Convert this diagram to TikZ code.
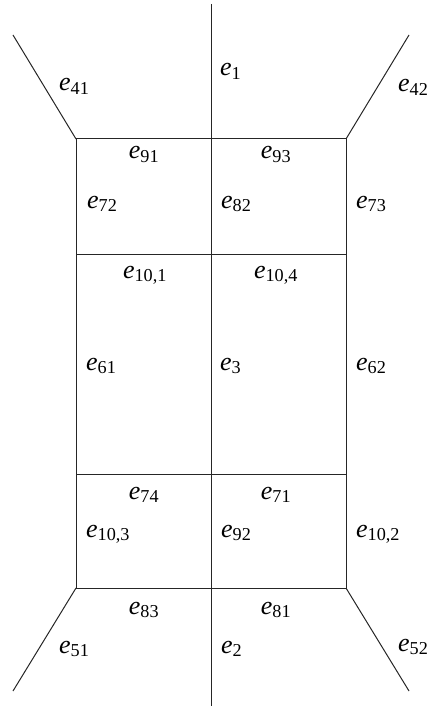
\documentclass[tikz,border=0pt]{standalone}
\usepackage{fontspec}
\setmainfont{Liberation Serif}
\newcommand{\elab}[1]{\textit{e}\textsubscript{#1}}
\tikzset{
    EdgeLine/.style={line width=1pt, draw=black!85},
    EdgeLabel/.style={font=\fontsize{26}{31}\selectfont, inner sep=0pt}
}

\begin{document}
\begin{tikzpicture}[x=1pt, y=-1pt]
\useasboundingbox (0, 0) rectangle (430, 711);

\coordinate (A) at (76, 139);
\coordinate (B) at (346, 139);
\coordinate (C) at (346, 588);
\coordinate (D) at (76, 588);
\coordinate (G) at (76, 254);
\coordinate (H) at (346, 254);
\coordinate (K) at (76, 474);
\coordinate (L) at (346, 474);
\coordinate (T) at (211, 4);
\coordinate (U) at (211, 706);
\coordinate (P) at (13, 35);
\coordinate (Q) at (409, 35);
\coordinate (R) at (13, 691);
\coordinate (S) at (409, 691);

\draw[EdgeLine] (A) -- (B) -- (C) -- (D) -- cycle;
\draw[EdgeLine] (T) -- (U);
\draw[EdgeLine] (G) -- (H);
\draw[EdgeLine] (K) -- (L);
\draw[EdgeLine] (P) -- (A);
\draw[EdgeLine] (Q) -- (B);
\draw[EdgeLine] (R) -- (D);
\draw[EdgeLine] (S) -- (C);

\node[EdgeLabel, anchor=base west] (e41) at (59, 91) {\elab{41}};
\node[EdgeLabel, anchor=base west] (e1) at (220, 75.5) {\elab{1}};
\node[EdgeLabel, anchor=base west] (e42) at (398, 92) {\elab{42}};

\node[EdgeLabel, anchor=base] (e91) at (144, 159) {\elab{91}};
\node[EdgeLabel, anchor=base] (e93) at (276, 159) {\elab{93}};
\node[EdgeLabel, anchor=base west] (e72) at (87, 208) {\elab{72}};
\node[EdgeLabel, anchor=base west] (e82) at (221, 208) {\elab{82}};
\node[EdgeLabel, anchor=base west] (e73) at (356, 208) {\elab{73}};

\node[EdgeLabel, anchor=base] (e101) at (145, 278) {\elab{10,1}};
\node[EdgeLabel, anchor=base] (e104) at (276, 278) {\elab{10,4}};
\node[EdgeLabel, anchor=base west] (e61) at (86, 370) {\elab{61}};
\node[EdgeLabel, anchor=base west] (e3) at (220, 370) {\elab{3}};
\node[EdgeLabel, anchor=base west] (e62) at (356, 370) {\elab{62}};

\node[EdgeLabel, anchor=base] (e74) at (144, 499) {\elab{74}};
\node[EdgeLabel, anchor=base] (e71) at (276, 499) {\elab{71}};
\node[EdgeLabel, anchor=base west] (e103) at (86, 537) {\elab{10,3}};
\node[EdgeLabel, anchor=base west] (e92) at (221, 537) {\elab{92}};
\node[EdgeLabel, anchor=base west] (e102) at (356, 537) {\elab{10,2}};

\node[EdgeLabel, anchor=base] (e83) at (144, 614) {\elab{83}};
\node[EdgeLabel, anchor=base] (e81) at (276, 614) {\elab{81}};
\node[EdgeLabel, anchor=base west] (e51) at (59, 653) {\elab{51}};
\node[EdgeLabel, anchor=base west] (e2) at (221, 653) {\elab{2}};
\node[EdgeLabel, anchor=base west] (e52) at (398, 651) {\elab{52}};

\end{tikzpicture}
\end{document}
